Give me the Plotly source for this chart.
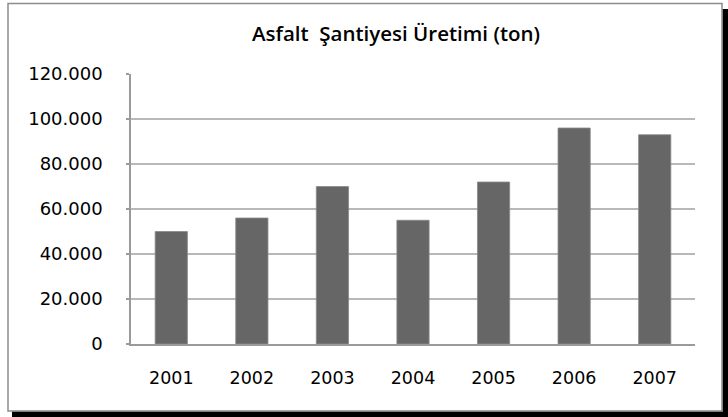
import plotly.graph_objects as go

years = ["2001", "2002", "2003", "2004", "2005", "2006", "2007"]
production = [50000, 56000, 70000, 55000, 72000, 96000, 93000]
y_ticks = [0, 20000, 40000, 60000, 80000, 100000, 120000]
title_text = "Asfalt  Şantiyesi Üretimi (ton)"

W, H = 728, 417
L, R, T, B = 131, 695, 74, 344


def px(x):
    return (x - L) / (R - L)


def py(y):
    return (B - y) / (B - T)


fig = go.Figure(
    go.Bar(
        x=years,
        y=production,
        marker=dict(color="#666666", line=dict(color="#8a8a8a", width=0.8)),
        width=0.4,
    )
)

shapes = [
    dict(type="rect", xref="paper", yref="paper",
         x0=px(8), x1=px(722), y0=py(411), y1=py(3.5),
         line=dict(color="#8c8c8c", width=1.5), layer="below"),
    dict(type="rect", xref="paper", yref="paper",
         x0=px(722.8), x1=px(760), y0=py(450), y1=py(9),
         line=dict(width=0), fillcolor="#000000"),
    dict(type="rect", xref="paper", yref="paper",
         x0=px(12), x1=px(760), y0=py(450), y1=py(411.8),
         line=dict(width=0), fillcolor="#000000"),
]

fig.update_layout(
    width=W, height=H,
    margin=dict(l=L, r=W - R, t=T, b=H - B, pad=0),
    paper_bgcolor="white",
    plot_bgcolor="white",
    separators=",.",
    showlegend=False,
    title=dict(text=title_text, x=396 / W, xanchor="center",
               y=1 - 34 / H, yanchor="middle",
               font=dict(family="Open Sans", size=20.5, color="#000000", weight=600)),
    shapes=shapes,
    bargap=0.6,
)

fig.update_xaxes(
    type="category",
    showline=True, linecolor="#9a9a9a", linewidth=1.5,
    showgrid=False, ticks="",
    ticklabelstandoff=17,
    tickfont=dict(family="DejaVu Sans", size=17.5, color="#000000"),
)
fig.update_yaxes(
    range=[0, 120000],
    tickvals=y_ticks, tickformat=",d",
    showline=True, linecolor="#9a9a9a", linewidth=1.5,
    showgrid=True, gridcolor="#b8b8b8", gridwidth=1.5,
    zeroline=False,
    ticks="outside", ticklen=3, tickcolor="#9a9a9a", tickwidth=1.5,
    ticklabelstandoff=20,
    tickfont=dict(family="DejaVu Sans", size=18, color="#000000"),
)

fig.write_html(
    "out.html",
    config={"displayModeBar": False},
    post_script="document.body.style.margin='0';document.body.style.overflow='hidden';",
)
